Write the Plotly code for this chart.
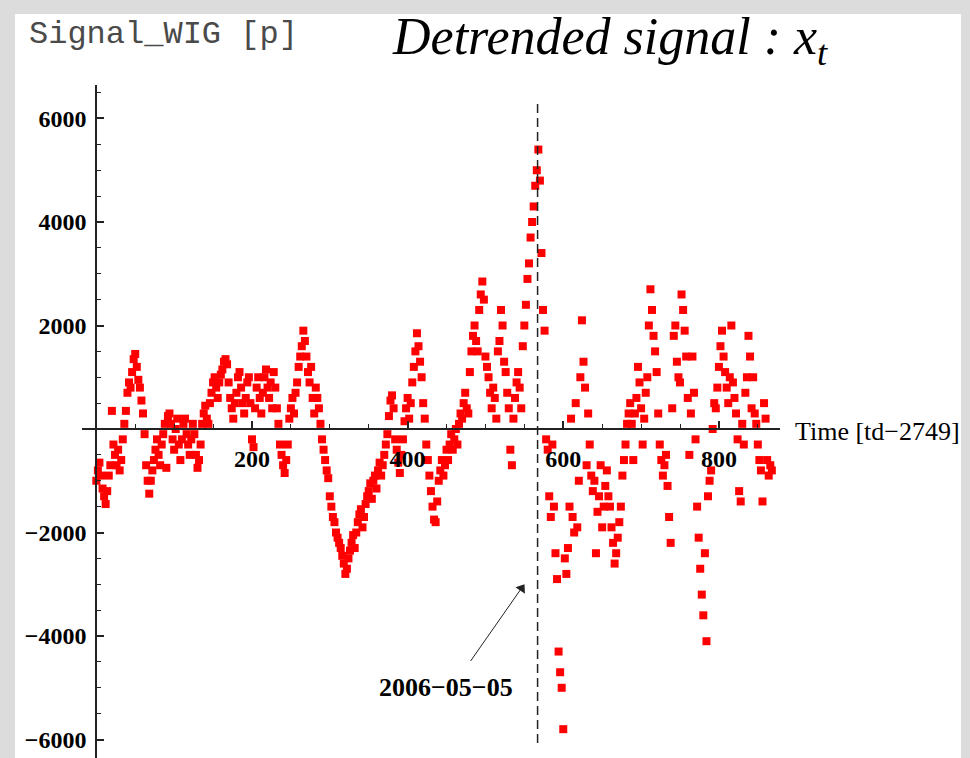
import plotly.graph_objects as go

# ---- data, one value every 2 days ----
t_days = list(range(0, 870, 2))
signal = [
    # 0-58
    -1000, -800, -650, -900, -1150, -1300, -1450, -1200, -900, -700,
    350, -300, -500, -700, -400, -800, -600, -200, 100, 350,
    700, 900, 800, 1100, 1350, 1450, 1200, 950, 800, 550,
    # 60-118
    300, -100, -700, -1000, -1250, -1000, -800, -600, -400, -200,
    -500, -700, -300, -100, 100, -750, 250, 300, 100, -200,
    -400, 0, 200, -300, -600, -200, 100, 200, -100, -300,
    # 120-178
    -500, -200, 100, -100, -500, -750, -600, -300, 100, 300,
    450, 200, 100, 500, 700, 900, 1000, 800, 600, 900,
    1050, 1150, 1300, 1350, 1250, 900, 600, 400, 200, 500,
    # 180-238
    700, 1000, 1100, 800, 500, 300, 600, 900, 1000, 500,
    -200, -350, 400, 800, 1000, 600, 300, 700, 1000, 1150,
    800, 600, 900, 400, 1100, 800, 400, 100, -300, -500,
    # 240-298
    -700, -850, -600, -300, 200, 400, 600, 300, 700, 900,
    1200, 1400, 1600, 1900, 1700, 1400, 1100, 900, 1200, 600,
    300, 800, 600, 400, 100, -200, -400, -600, -800, -950,
    # 300-358
    -1300, -1500, -1700, -1800, -2000, -2100, -2200, -2300, -2450, -2600,
    -2800, -2700, -2500, -2350, -2200, -2050, -2300, -2000, -1800, -1650,
    -1550, -1900, -1700, -1450, -1300, -1200, -1050, -1350, -1000, -900,
    # 360-418
    -1150, -800, -650, -900, -700, -500, -300, -100, 250, 550,
    650, 400, -200, -400, -650, -850, -500, -200, 150, 400,
    600, 200, 500, 900, 1200, 1500, 1850, 1600, 1300, 1000,
    # 420-478
    500, 200, -300, -600, -900, -1200, -1500, -1750, -1800, -1400,
    -1000, -800, -600, -900, -700, -400, -600, -300, -100, -400,
    -200, 0, -300, 100, 300, 200, 500, 700, 400, 300,
    # 480-538
    1100, 1500, 1800, 2000, 1700, 1500, 2300, 2600, 2850, 2500,
    1400, 1200, 1000, 700, 400, 800, 600, 200, 1500, 1700,
    2300, 2000, 1300, 1100, 700, 400, -400, -700, 200, 600,
    # 540-598
    900, 1100, 800, 400, 1600, 2000, 2400, 2900, 3200, 3700,
    4000, 4300, 4700, 5000, 5400, 4800, 3400, 2300, 1900, -200,
    -400, -1300, -1700, -300, -1500, -2400, -2900, -4300, -4700, -5000,
    # 600-658
    -5800, -2500, -2800, -2300, -1500, 200, -1700, -2000, 500, -1900,
    -1000, 1000, 2100, 1300, 800, -700, 300, -300, -900, -1200,
    -1000, -2400, -1600, -1300, -700, -1900, -1500, -1100, -800, -1300,
    # 660-718
    -1500, -1900, -2200, -2600, -2400, -2100, -1800, -1500, -900, -600,
    -300, 100, 300, 500, 100, -600, 300, 600, 1200, 900,
    400, -300, 200, 700, 1000, 2000, 2700, 2300, 1800, 1500,
    # 720-778
    1100, 300, -300, -600, -900, -700, -500, -1100, -1700, -2200,
    400, 1800, 2000, 1300, 1000, 900, 2600, 2300, 1900, 1400,
    600, -500, 300, 1400, 700, -200, -1500, -2100, -2700, -3200,
    # 780-838
    -3600, -2400, -4100, -1300, -1000, -800, 0, 500, 400, 800,
    1200, 1600, 1900, 1400, 1100, 800, 500, 1000, 2000, 900,
    600, 300, -200, -1200, -1400, 100, -300, 700, 1000, 1800,
    # 840-868
    1400, 400, 1000, 300, 100, -300, -600, -800, -1400, 500,
    200, -600, -900, -700, -800,
]

x_ticks = [200, 400, 600, 800]
y_ticks = [-6000, -4000, -2000, 2000, 4000, 6000]
event_day = 567
event_label = "2006\u221205\u221205"
arrow_tail = (481, -4482)
arrow_tip = (550, -2995)

# ---- figure ----
X_RANGE = [-18.4, 878.5]
Y_RANGE = [-6357, 6647]
x_zero_frac = (0 - X_RANGE[0]) / (X_RANGE[1] - X_RANGE[0])
y_zero_frac = (0 - Y_RANGE[0]) / (Y_RANGE[1] - Y_RANGE[0])

fig = go.Figure()
fig.add_trace(go.Scatter(
    x=t_days, y=signal, mode="markers",
    marker=dict(symbol="square", size=8, color="#ff0000", line=dict(width=0)),
    showlegend=False, hoverinfo="x+y",
))

# arrow head (slender triangle, rotated along the arrow direction)
fig.add_trace(go.Scatter(
    x=[arrow_tip[0] - 3.5], y=[arrow_tip[1] - 85], mode="markers",
    marker=dict(symbol="triangle-up", size=10, angle=35, color="#222",
                line=dict(width=0)),
    showlegend=False, hoverinfo="skip",
))

L, R, T, B = 82, 190, 85, 0
W, H = 970, 758
pw, ph = W - L - R, H - T - B


def px(xp):
    return (xp - L) / pw


def py(yp):
    return (H - B - yp) / ph


fig.update_layout(
    width=W, height=H,
    margin=dict(l=L, r=R, t=T, b=B, pad=0),
    paper_bgcolor="#dcdcdc",
    plot_bgcolor="white",
    showlegend=False,
    xaxis=dict(
        range=X_RANGE, anchor="free", position=y_zero_frac,
        showgrid=False, zeroline=False,
        showline=True, linecolor="#222", linewidth=2,
        tickmode="array", tickvals=x_ticks, ticktext=[str(v) for v in x_ticks],
        ticks="inside", ticklen=7, tickwidth=1.5, tickcolor="#222",
        tickfont=dict(family="Liberation Serif", size=24, color="black", weight="bold"),
        ticklabelstandoff=8,
        minor=dict(tickmode="linear", tick0=0, dtick=50, ticks="inside",
                   ticklen=4, tickwidth=1.2, tickcolor="#222", showgrid=False),
    ),
    yaxis=dict(
        range=Y_RANGE, anchor="free", position=x_zero_frac,
        showgrid=False, zeroline=False,
        showline=True, linecolor="#222", linewidth=2,
        tickmode="array", tickvals=y_ticks,
        ticktext=[("\u2212" + str(abs(v))) if v < 0 else str(v) for v in y_ticks],
        ticks="inside", ticklen=7, tickwidth=1.5, tickcolor="#222",
        tickfont=dict(family="Liberation Serif", size=24, color="black", weight="bold"),
        ticklabelstandoff=4,
        minor=dict(tickmode="linear", tick0=0, dtick=500, ticks="inside",
                   ticklen=4, tickwidth=1.2, tickcolor="#222", showgrid=False),
    ),
)

# white panel inside gray frame
fig.add_shape(type="rect", xref="paper", yref="paper",
              x0=px(15), x1=px(961), y0=py(770), y1=py(14),
              fillcolor="white", line=dict(width=0), layer="below")

# dashed event line
fig.add_shape(type="line", xref="x", yref="y",
              x0=event_day, x1=event_day, y0=-6068, y1=6338,
              line=dict(color="#222", width=1.5, dash="9px,5px"))

# arrow shaft
fig.add_shape(type="line", xref="x", yref="y",
              x0=arrow_tail[0], y0=arrow_tail[1], x1=arrow_tip[0] - 5, y1=arrow_tip[1] - 110,
              line=dict(color="#222", width=1))

fig.add_annotation(x=449, y=-5004, xref="x", yref="y", text=event_label,
                   showarrow=False, xanchor="center", yanchor="middle",
                   font=dict(family="Liberation Serif", size=26, color="black", weight="bold"))

# axis label x
fig.add_annotation(x=px(793), y=py(432), xref="paper", yref="paper",
                   text="Time [td\u22122749]", showarrow=False,
                   xanchor="left", yanchor="middle",
                   font=dict(family="Liberation Serif", size=26, color="black"))

# y label
fig.add_annotation(x=px(27), y=py(34), xref="paper", yref="paper",
                   text="Signal_WIG [p]", showarrow=False,
                   xanchor="left", yanchor="middle",
                   font=dict(family="Liberation Mono", size=32, color="#4a4a4a"))

# title
fig.add_annotation(x=px(390), y=py(40), xref="paper", yref="paper",
                   text="<i>Detrended signal : x<sub>t</sub></i>", showarrow=False,
                   xanchor="left", yanchor="middle",
                   font=dict(family="Liberation Serif", size=52, color="black"))

fig.write_html("out.html",
               config={"displayModeBar": False},
               post_script="document.body.style.margin='0';document.body.style.padding='0';")
